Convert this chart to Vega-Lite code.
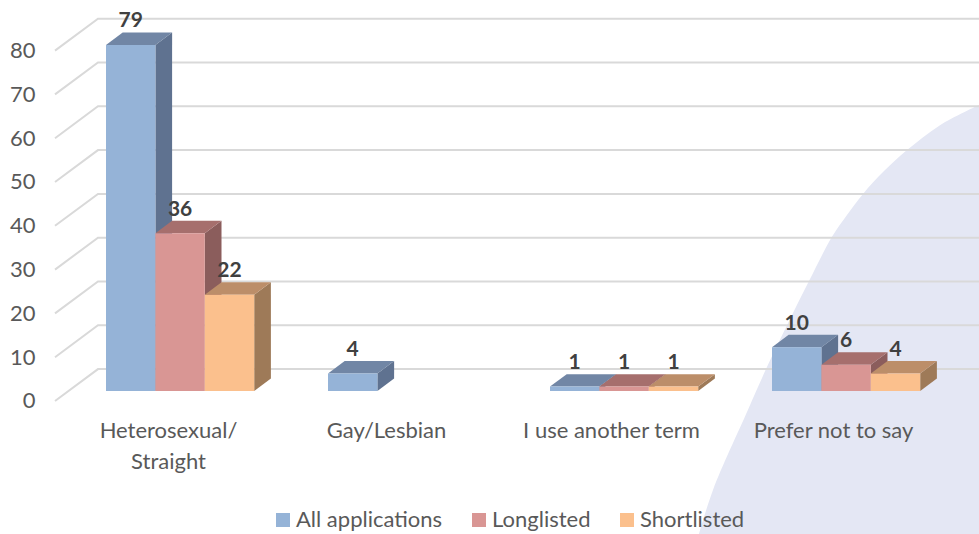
{
"$schema":"https://vega.github.io/schema/vega-lite/v6.json",
"width":979,"height":534,"autosize":{"type":"none"},"padding":0,"background":"white",
"config":{"view":{"stroke":null},"font":"Lato"},
"datasets":{
"bars":[
{"category":"Heterosexual/Straight","series":"All applications","value":79},
{"category":"Heterosexual/Straight","series":"Longlisted","value":36},
{"category":"Heterosexual/Straight","series":"Shortlisted","value":22},
{"category":"Gay/Lesbian","series":"All applications","value":4},
{"category":"I use another term","series":"All applications","value":1},
{"category":"I use another term","series":"Longlisted","value":1},
{"category":"I use another term","series":"Shortlisted","value":1},
{"category":"Prefer not to say","series":"All applications","value":10},
{"category":"Prefer not to say","series":"Longlisted","value":6},
{"category":"Prefer not to say","series":"Shortlisted","value":4}],
"ticks":[{"tick":0},{"tick":10},{"tick":20},{"tick":30},{"tick":40},{"tick":50},{"tick":60},{"tick":70},{"tick":80}],
"shape":[{"sx":699,"sy":-32.65},{"sx":713,"sy":-22.6},{"sx":748,"sy":-4.3},{"sx":766,"sy":5},{"sx":787,"sy":15},{"sx":809,"sy":25.1},{"sx":832,"sy":35.2},{"sx":847,"sy":40.2},{"sx":863,"sy":45},{"sx":884,"sy":50.2},{"sx":907,"sy":55},{"sx":940,"sy":60.7},{"sx":979,"sy":65.3}]
},
"resolve":{"scale":{"color":"independent"}},
"layer":[
{"data":{"name":"shape"},
 "mark":{"type":"area","color":"#E4E7F4","interpolate":"catmull-rom"},
 "encoding":{
  "x":{"field":"sx","type":"quantitative","scale":{"domain":[0,979],"nice":false,"zero":false},
   "axis":{"orient":"bottom","offset":-114,"zindex":1,"title":null,"values":[168,386,611,833],"domain":false,"ticks":false,"grid":false,"labelPadding":0,"labelFontSize":22,"labelColor":"#595959","labelFont":"Lato","labelFlush":false,"labelBound":false,"labelOverlap":false,"labelAlign":"center","labelBaseline":"top","labelLineHeight":31,
   "labelExpr":"datum.value==168?['Heterosexual/','Straight']:(datum.value==386?'Gay/Lesbian':(datum.value==611?'I use another term':'Prefer not to say'))"}},
  "y":{"field":"sy","type":"quantitative","stack":null,"scale":{"domain":[-32.65,89.27],"nice":false,"zero":false},
   "axis":{"orient":"left","offset":-35,"zindex":1,"title":null,"values":[0,10,20,30,40,50,60,70,80],"domain":false,"ticks":false,"grid":false,"labelPadding":0,"labelFontSize":22,"labelColor":"#595959","labelFont":"Lato","labelOffset":10,"labelBound":false,"labelFlush":false}},
  "y2":{"datum":-32.65}}},
{"data":{"name":"ticks"},
 "transform":[{"calculate":"[0,1,2]","as":"pt"},{"flatten":["pt"]},
  {"calculate":"datum.pt==0?55:(datum.pt==1?98:979)","as":"gx"},
  {"calculate":"datum.tick+(datum.pt==0?-2.28:5)","as":"gy"}],
 "mark":{"type":"line","color":"#D9D9D9","strokeWidth":2},
 "encoding":{
  "x":{"field":"gx","type":"quantitative","scale":{"domain":[0,979],"nice":false,"zero":false}},
  "y":{"field":"gy","type":"quantitative","scale":{"domain":[-32.65,89.27],"nice":false,"zero":false}},
  "detail":{"field":"tick"},
  "order":{"field":"pt"}}},
{"data":{"name":"bars"},
 "transform":[
  {"calculate":"106+222*indexof(['Heterosexual/Straight','Gay/Lesbian','I use another term','Prefer not to say'],datum.category)+49.4*indexof(['All applications','Longlisted','Shortlisted'],datum.series)","as":"x0"},
  {"calculate":"[0,1]","as":"pt"},{"flatten":["pt"]},
  {"calculate":"datum.x0+49.4+datum.pt*16.7","as":"sx"},
  {"calculate":"datum.value+datum.pt*2.85","as":"ytop"},
  {"calculate":"datum.pt*2.85","as":"ybot"}],
 "mark":{"type":"area"},
 "encoding":{
  "x":{"field":"sx","type":"quantitative","scale":{"domain":[0,979],"nice":false,"zero":false}},
  "y":{"field":"ytop","type":"quantitative","stack":null,"scale":{"domain":[-32.65,89.27],"nice":false,"zero":false}},
  "y2":{"field":"ybot"},
  "color":{"field":"series","type":"nominal","legend":null,"scale":{"domain":["All applications","Longlisted","Shortlisted"],"range":["#5F7290","#8B5D5C","#9E7A58"]}},
  "detail":{"field":"category"}}},
{"data":{"name":"bars"},
 "transform":[
  {"calculate":"106+222*indexof(['Heterosexual/Straight','Gay/Lesbian','I use another term','Prefer not to say'],datum.category)+49.4*indexof(['All applications','Longlisted','Shortlisted'],datum.series)","as":"x0"},
  {"calculate":"[0,1]","as":"pt"},{"flatten":["pt"]},
  {"calculate":"datum.x0+datum.pt*16.7","as":"tl"},
  {"calculate":"datum.x0+49.4+datum.pt*16.7","as":"tr"},
  {"calculate":"datum.value+datum.pt*2.85","as":"ytop"}],
 "mark":{"type":"area","orient":"horizontal"},
 "encoding":{
  "y":{"field":"ytop","type":"quantitative","scale":{"domain":[-32.65,89.27],"nice":false,"zero":false}},
  "x":{"field":"tl","type":"quantitative","stack":null,"scale":{"domain":[0,979],"nice":false,"zero":false}},
  "x2":{"field":"tr"},
  "color":{"field":"series","type":"nominal","legend":null,"scale":{"domain":["All applications","Longlisted","Shortlisted"],"range":["#7186A5","#A66F6D","#BC8E69"]}},
  "detail":{"field":"category"}}},
{"data":{"name":"bars"},
 "transform":[
  {"calculate":"106+222*indexof(['Heterosexual/Straight','Gay/Lesbian','I use another term','Prefer not to say'],datum.category)+49.4*indexof(['All applications','Longlisted','Shortlisted'],datum.series)","as":"x0"},
  {"calculate":"datum.x0+49.4","as":"x1"}],
 "mark":{"type":"rect"},
 "encoding":{
  "x":{"field":"x0","type":"quantitative","scale":{"domain":[0,979],"nice":false,"zero":false}},
  "x2":{"field":"x1"},
  "y":{"field":"value","type":"quantitative","scale":{"domain":[-32.65,89.27],"nice":false,"zero":false}},
  "y2":{"datum":0},
  "color":{"field":"series","type":"nominal","title":null,"scale":{"domain":["All applications","Longlisted","Shortlisted"],"range":["#95B3D7","#D99694","#FBC08D"]},
   "legend":{"orient":"none","direction":"horizontal","legendX":272,"legendY":509,"title":null,"symbolType":"square","symbolSize":196,"symbolStrokeWidth":0,"labelFontSize":22,"labelColor":"#595959","labelFont":"Lato","columnPadding":25,"labelOffset":2,"padding":0}}}},
{"data":{"name":"bars"},
 "transform":[
  {"calculate":"106+222*indexof(['Heterosexual/Straight','Gay/Lesbian','I use another term','Prefer not to say'],datum.category)+49.4*indexof(['All applications','Longlisted','Shortlisted'],datum.series)+24.7","as":"cx"},
  {"calculate":"datum.value+2.85","as":"ly"}],
 "mark":{"type":"text","font":"Lato","fontWeight":"bold","fontSize":21,"color":"#404040","baseline":"alphabetic","align":"center","dy":-5},
 "encoding":{
  "x":{"field":"cx","type":"quantitative","scale":{"domain":[0,979],"nice":false,"zero":false}},
  "y":{"field":"ly","type":"quantitative","scale":{"domain":[-32.65,89.27],"nice":false,"zero":false}},
  "text":{"field":"value","type":"quantitative"}}}
]
}
